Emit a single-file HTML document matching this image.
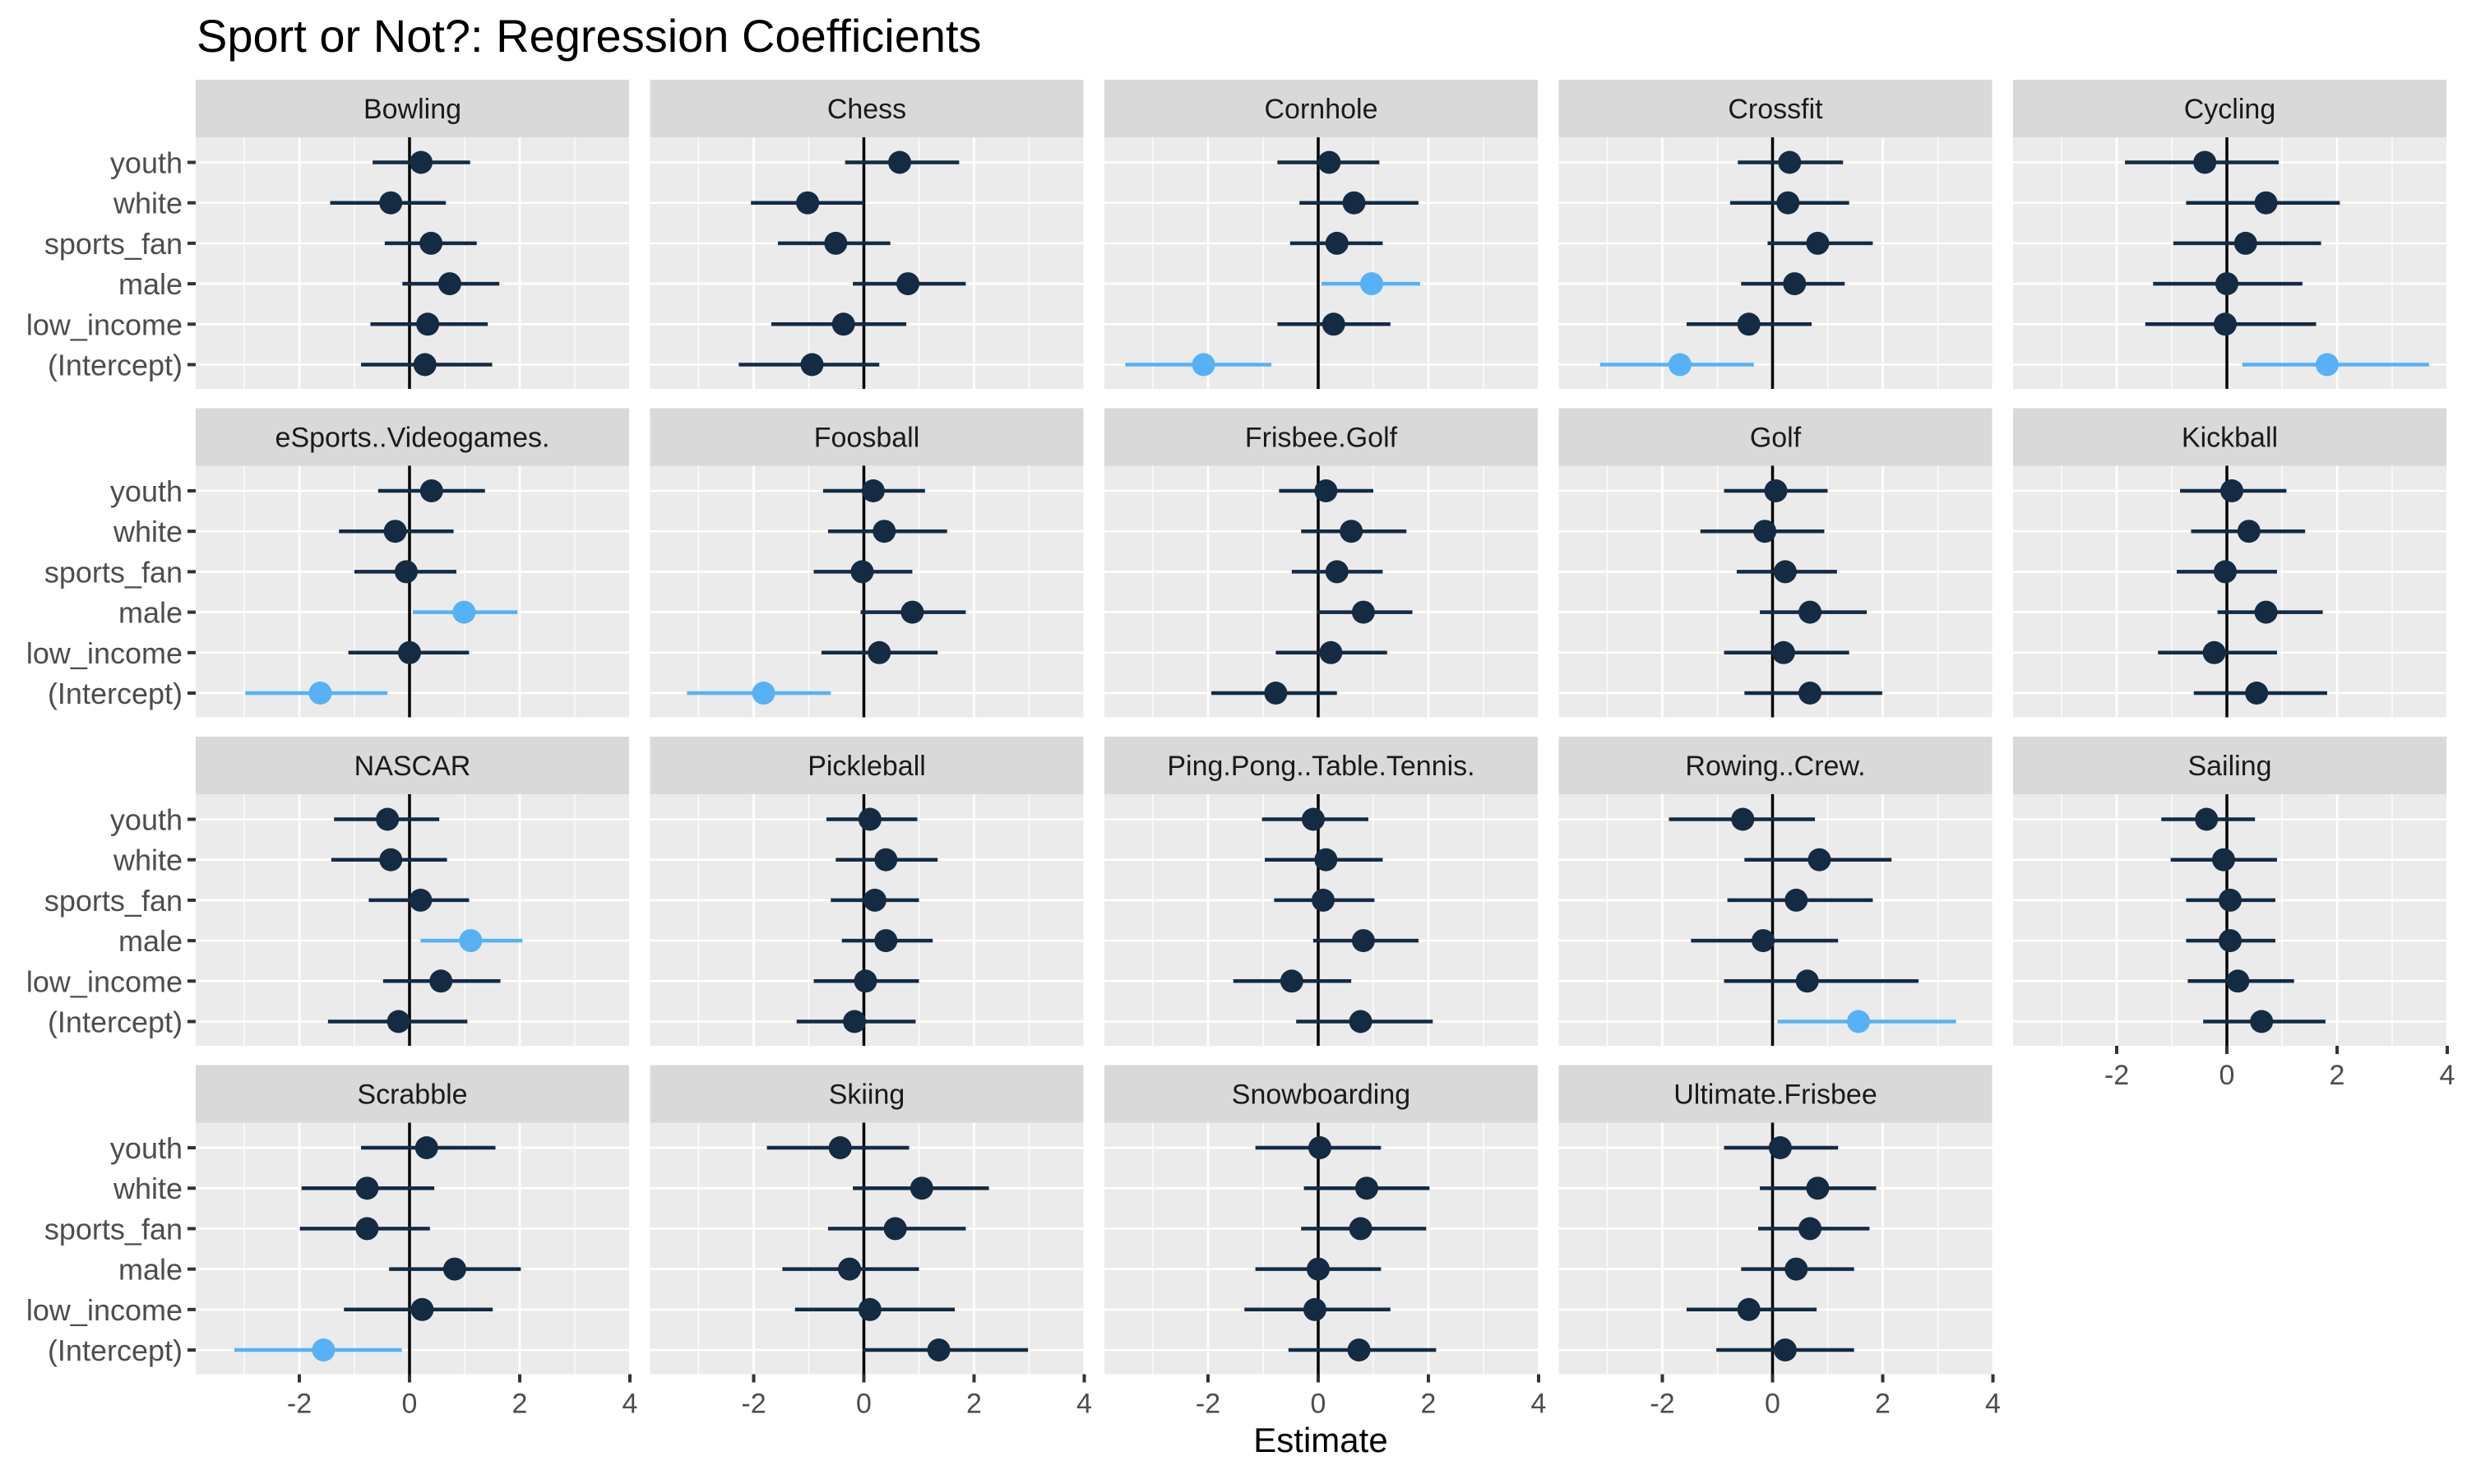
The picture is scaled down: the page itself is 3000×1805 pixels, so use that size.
<!DOCTYPE html>
<html><head><meta charset="utf-8"><style>
html,body{margin:0;padding:0;background:#fff}
svg text{font-family:"Liberation Sans",sans-serif}
</style></head><body>
<svg id="chart" xmlns="http://www.w3.org/2000/svg" width="3000" height="1800" viewBox="0 0 3000 1800">
<text x="239" y="63" font-size="56" fill="#000">Sport or Not?: Regression Coefficients</text>
<text x="1606" y="1766" font-size="42" text-anchor="middle" fill="#000">Estimate</text>
</svg>
<script>
const sports = ["Bowling","Chess","Cornhole","Crossfit","Cycling","eSports..Videogames.","Foosball","Frisbee.Golf","Golf","Kickball","NASCAR","Pickleball","Ping.Pong..Table.Tennis.","Rowing..Crew.","Sailing","Scrabble","Skiing","Snowboarding","Ultimate.Frisbee"];
const terms = ["youth","white","sports_fan","male","low_income","(Intercept)"];
const xTicks = [-2,0,2,4];
const xTickLabels = ["-2","0","2","4"];
// estimates per sport, in terms order
const est = [
[0.21,-0.34,0.39,0.73,0.33,0.28],
[0.65,-1.02,-0.51,0.8,-0.37,-0.94],
[0.2,0.65,0.34,0.97,0.28,-2.08],
[0.31,0.28,0.82,0.4,-0.43,-1.68],
[-0.4,0.71,0.34,0,-0.03,1.82],
[0.4,-0.26,-0.06,0.99,0,-1.62],
[0.17,0.37,-0.03,0.88,0.28,-1.82],
[0.14,0.6,0.34,0.82,0.23,-0.77],
[0.06,-0.14,0.23,0.68,0.2,0.68],
[0.09,0.4,-0.03,0.71,-0.23,0.54],
[-0.4,-0.34,0.2,1.11,0.57,-0.2],
[0.11,0.4,0.2,0.4,0.03,-0.17],
[-0.09,0.14,0.09,0.82,-0.48,0.77],
[-0.54,0.85,0.43,-0.17,0.63,1.56],
[-0.37,-0.06,0.06,0.06,0.2,0.63],
[0.31,-0.77,-0.77,0.82,0.23,-1.56],
[-0.43,1.05,0.57,-0.26,0.11,1.36],
[0.03,0.88,0.77,0,-0.06,0.74],
[0.14,0.82,0.68,0.43,-0.43,0.23]];
const lower = [
[-0.67,-1.44,-0.45,-0.13,-0.71,-0.88],
[-0.34,-2.05,-1.56,-0.2,-1.68,-2.27],
[-0.74,-0.34,-0.51,0.06,-0.74,-3.5],
[-0.63,-0.77,-0.09,-0.57,-1.56,-3.13],
[-1.85,-0.74,-0.97,-1.34,-1.48,0.28],
[-0.57,-1.28,-1.0,0.06,-1.11,-2.98],
[-0.74,-0.65,-0.91,-0.06,-0.77,-3.21],
[-0.71,-0.31,-0.48,-0.02,-0.77,-1.94],
[-0.88,-1.31,-0.65,-0.23,-0.88,-0.51],
[-0.85,-0.65,-0.91,-0.17,-1.25,-0.6],
[-1.37,-1.42,-0.74,0.2,-0.48,-1.48],
[-0.68,-0.51,-0.6,-0.4,-0.91,-1.22],
[-1.02,-0.97,-0.8,-0.09,-1.54,-0.4],
[-1.88,-0.51,-0.82,-1.48,-0.88,0.09],
[-1.19,-1.02,-0.74,-0.74,-0.71,-0.43],
[-0.88,-1.96,-1.99,-0.37,-1.19,-3.18],
[-1.76,-0.2,-0.65,-1.48,-1.25,-0.02],
[-1.14,-0.26,-0.31,-1.14,-1.34,-0.54],
[-0.88,-0.23,-0.26,-0.57,-1.56,-1.02]];
const upper = [
[1.1,0.66,1.22,1.63,1.42,1.5],
[1.73,0,0.48,1.85,0.77,0.28],
[1.11,1.82,1.17,1.85,1.31,-0.85],
[1.28,1.39,1.82,1.31,0.71,-0.34],
[0.94,2.05,1.71,1.37,1.62,3.67],
[1.37,0.8,0.85,1.96,1.08,-0.4],
[1.11,1.51,0.88,1.85,1.34,-0.6],
[1.0,1.6,1.17,1.71,1.25,0.34],
[1.0,0.94,1.17,1.71,1.39,1.99],
[1.08,1.42,0.91,1.74,0.91,1.82],
[0.54,0.68,1.08,2.05,1.65,1.05],
[0.97,1.34,1.0,1.25,1.0,0.94],
[0.91,1.17,1.02,1.82,0.6,2.08],
[0.77,2.16,1.82,1.19,2.65,3.33],
[0.51,0.91,0.88,0.88,1.22,1.79],
[1.56,0.45,0.37,2.02,1.51,-0.14],
[0.82,2.27,1.85,1.0,1.65,2.98],
[1.14,2.02,1.96,1.14,1.31,2.14],
[1.19,1.88,1.76,1.48,0.8,1.48]];

const NS="http://www.w3.org/2000/svg";
const svg=document.getElementById('chart');
const PW=527, PH=306, SH=70, UNIT=67, ZERO=260, XMIN=-ZERO/UNIT;
function colLeft(c){return 238+c*552.5;}
function stripTop(r){return 97+r*399.5;}
function xS(v,c){return colLeft(c)+ZERO+v*UNIT;}
function yS(i,r){return stripTop(r)+SH+30.5+i*49.2;}
function mk(tag,attrs,parent){const e=document.createElementNS(NS,tag);for(const k in attrs)e.setAttribute(k,attrs[k]);(parent||svg).appendChild(e);return e;}

sports.forEach((name,k)=>{
  const c=k%5, r=Math.floor(k/5);
  const L=colLeft(c), T=stripTop(r), PT=T+SH;
  const g=mk('g',{});
  
  
  const strip=mk('rect',{x:L,y:T,width:PW,height:SH,fill:'#D9D9D9'},g);
  
  
  const st=mk('text',{x:L+PW/2,y:T+SH/2+12,'font-size':34,'text-anchor':'middle',fill:'#1A1A1A'},g);
  st.textContent=name;
  
  
  const bg=mk('rect',{x:L,y:PT,width:PW,height:PH,fill:'#EBEBEB'},g);
  
  
  [-3,-1,1,3].forEach(v=>{const x=xS(v,c);if(x>L&&x<L+PW){const l=mk('line',{x1:x,x2:x,y1:PT,y2:PT+PH,stroke:'#fff','stroke-width':1.3},g);}});
  xTicks.forEach(v=>{const x=xS(v,c);if(x>L&&x<L+PW){const l=mk('line',{x1:x,x2:x,y1:PT,y2:PT+PH,stroke:'#fff','stroke-width':2.6},g);}});
  terms.forEach((t,i)=>{const y=yS(i,r);const l=mk('line',{x1:L,x2:L+PW,y1:y,y2:y,stroke:'#fff','stroke-width':2.6},g);});
  const zl=mk('line',{x1:xS(0,c),x2:xS(0,c),y1:PT,y2:PT+PH,stroke:'#000','stroke-width':3.5},g);
  
  
  terms.forEach((t,i)=>{
    const lo=lower[k][i], hi=upper[k][i], e=est[k][i];
    const col=(lo>0||hi<0)?'#56B1F7':'#132B43';
    const y=yS(i,r);
    const seg=mk('line',{x1:xS(Math.max(lo,XMIN),c),x2:xS(Math.min(hi,XMIN+PW/UNIT),c),y1:y,y2:y,stroke:col,'stroke-width':4.5},g);
    
    
    const pt=mk('circle',{cx:xS(e,c),cy:y,r:14,fill:col},g);
    
    
  });
  if(c===0){
    terms.forEach((t,i)=>{const y=yS(i,r);
      const tk=mk('line',{x1:L-10,x2:L,y1:y,y2:y,stroke:'#333','stroke-width':4},g);
      
      
      const tx=mk('text',{x:L-16,y:y+13,'font-size':36,'text-anchor':'end',fill:'#4D4D4D'},g);
      tx.textContent=t;
      
      
    });
  }
  if(r===3||(c===4&&r===2)){
    xTicks.forEach((v,j)=>{const x=xS(v,c);
      const tk=mk('line',{x1:x,x2:x,y1:PT+PH,y2:PT+PH+10,stroke:'#333','stroke-width':4},g);
      
      
      const tx=mk('text',{x:x,y:PT+PH+47,'font-size':34,'text-anchor':'middle',fill:'#4D4D4D'},g);
      tx.textContent=xTickLabels[j];
      
      
    });
  }
});
</script>
</body></html>
